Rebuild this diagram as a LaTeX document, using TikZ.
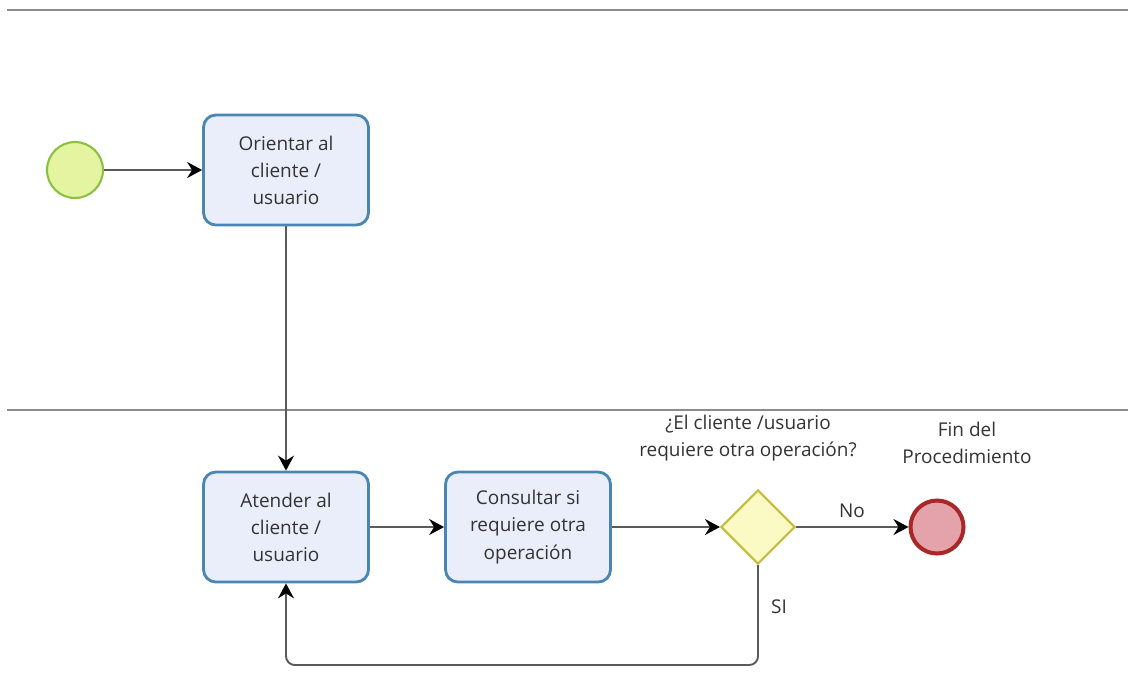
\documentclass[tikz,border=0pt]{standalone}
\usepackage{fontspec}
\setmainfont{Open Sans}
\usepackage{tikz}
\usetikzlibrary{arrows.meta,shapes.geometric}
\definecolor{bpline}{HTML}{5A5A5A}
\definecolor{bplane}{HTML}{8C8C8C}
\definecolor{bptext}{HTML}{333333}
\definecolor{bptaskfill}{HTML}{EAEEFA}
\definecolor{bptaskdraw}{HTML}{4A86B4}
\definecolor{bpstartfill}{HTML}{E4F4A0}
\definecolor{bpstartdraw}{HTML}{8CBF45}
\definecolor{bpendfill}{HTML}{E4A3AA}
\definecolor{bpenddraw}{HTML}{A8282A}
\definecolor{bpgwfill}{HTML}{FCFAC4}
\definecolor{bpgwdraw}{HTML}{C3BD3E}

\begin{document}
\begin{tikzpicture}[x=0.02cm,y=-0.02cm,
  task/.style={draw=bptaskdraw,fill=bptaskfill,line width=1.6pt,rounded corners=7pt,
    minimum width=3.3cm,minimum height=2.2cm,align=center,inner sep=2pt,
    font=\fontsize{10.8}{15.4}\selectfont,text=bptext},
  startev/.style={circle,draw=bpstartdraw,fill=bpstartfill,line width=1.2pt,
    minimum size=1.12cm,inner sep=0pt},
  endev/.style={circle,draw=bpenddraw,fill=bpendfill,line width=2.3pt,
    minimum size=1.06cm,inner sep=0pt},
  gateway/.style={diamond,draw=bpgwdraw,fill=bpgwfill,line width=1.2pt,
    minimum size=1.48cm,inner sep=0pt},
  lbl/.style={align=center,font=\fontsize{10.8}{15.4}\selectfont,text=bptext},
  lane/.style={bplane,line width=1.3pt},
  flow/.style={-{Stealth[length=3mm,width=3.2mm,inset=1mm,color=black]},bpline,line width=1.1pt}]
  \useasboundingbox (0,0) rectangle (1128,691);
  % lanes
  \draw[lane] (7,10) -- (1128,10);
  \draw[lane] (7,410) -- (1128,410);
  % upper lane
  \node[startev] (start) at (75,170) {};
  \node[task] (orient) at (286,170) {Orientar al\\cliente /\\usuario};
  % lower lane
  \node[task] (atend) at (286,527) {Atender al\\cliente /\\usuario};
  \node[task] (consult) at (528,527) {Consultar si\\requiere otra\\operación};
  \node[gateway] (gw) at (758,527) {};
  \node[endev] (fin) at (937,527) {};
  \node[lbl] (gwtext) at (748,438) {¿El cliente /usuario\\requiere otra operación?};
  \node[lbl] (fintext) at (967,443) {Fin del\\Procedimiento};
  \node[lbl] (notext) at (852,511) {No};
  \node[lbl] (sitext) at (779,607) {SI};
  \coordinate (loopy) at (0,665);
  \draw[flow] (start) -- (orient);
  \draw[flow] (orient) -- (atend);
  \draw[flow] (atend) -- (consult);
  \draw[flow] (consult) -- (gw);
  \draw[flow] (gw) -- (fin);
  \draw[flow,rounded corners=5pt] (gw.south) -- (gw.south |- loopy) -| (atend.south);
\end{tikzpicture}
\end{document}
